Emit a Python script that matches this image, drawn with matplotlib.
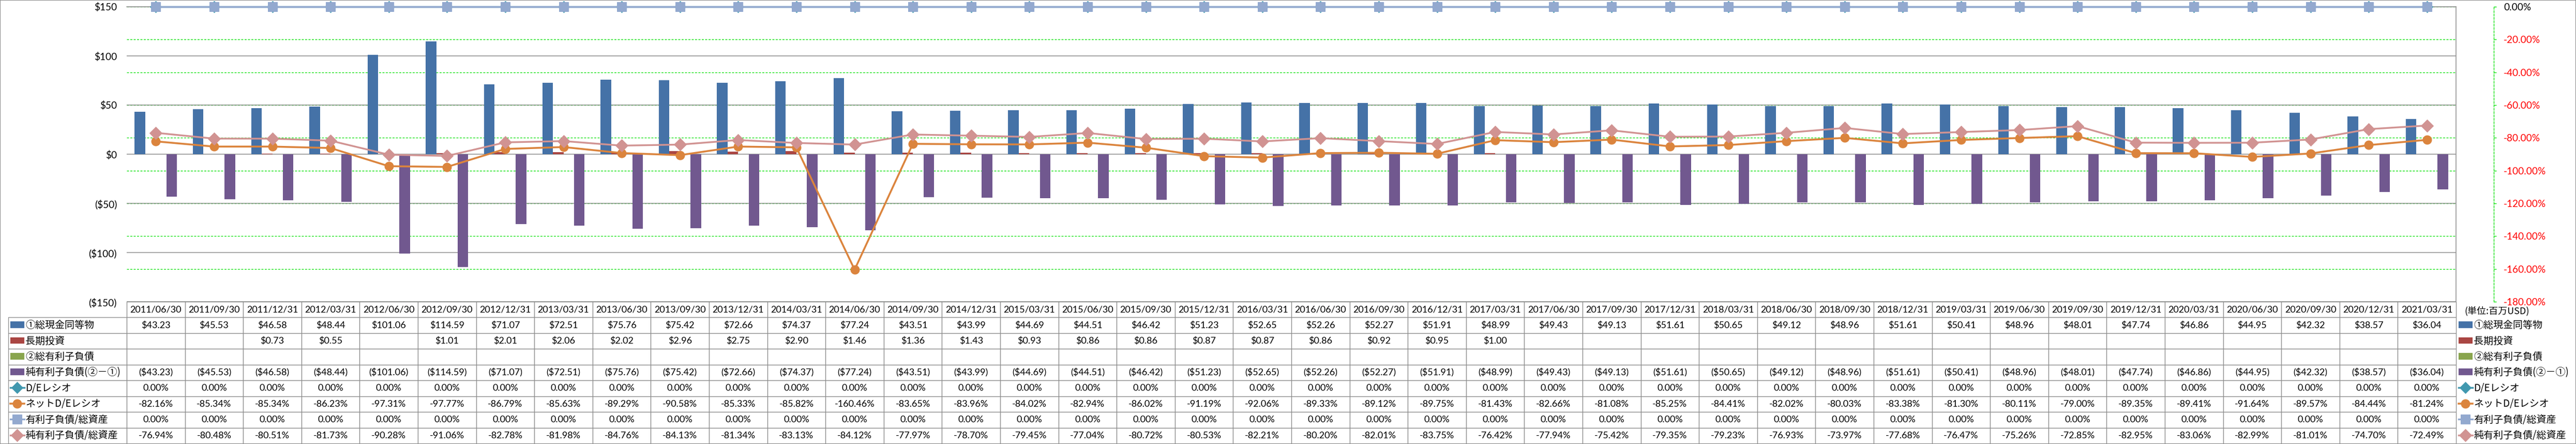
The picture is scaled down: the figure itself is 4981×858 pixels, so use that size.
import numpy as np
import matplotlib
matplotlib.use("Agg")
import matplotlib.pyplot as plt
from matplotlib.ticker import FixedLocator, FuncFormatter

plt.rcParams['font.family'] = ['Lato', 'Noto Sans CJK JP', 'DejaVu Sans']

dates = [
    "2011/06/30", "2011/09/30", "2011/12/31", "2012/03/31", "2012/06/30", "2012/09/30",
    "2012/12/31", "2013/03/31", "2013/06/30", "2013/09/30", "2013/12/31", "2014/03/31",
    "2014/06/30", "2014/09/30", "2014/12/31", "2015/03/31", "2015/06/30", "2015/09/30",
    "2015/12/31", "2016/03/31", "2016/06/30", "2016/09/30", "2016/12/31", "2017/03/31",
    "2017/06/30", "2017/09/30", "2017/12/31", "2018/03/31", "2018/06/30", "2018/09/30",
    "2018/12/31", "2019/03/31", "2019/06/30", "2019/09/30", "2019/12/31", "2020/03/31",
    "2020/06/30", "2020/09/30", "2020/12/31", "2021/03/31",
]

# 単位: 百万USD
cash = [43.23, 45.53, 46.58, 48.44, 101.06, 114.59, 71.07, 72.51, 75.76, 75.42,
        72.66, 74.37, 77.24, 43.51, 43.99, 44.69, 44.51, 46.42, 51.23, 52.65,
        52.26, 52.27, 51.91, 48.99, 49.43, 49.13, 51.61, 50.65, 49.12, 48.96,
        51.61, 50.41, 48.96, 48.01, 47.74, 46.86, 44.95, 42.32, 38.57, 36.04]
nan = np.nan
lt_invest = [nan, nan, 0.73, 0.55, nan, 1.01, 2.01, 2.06, 2.02, 2.96,
             2.75, 2.90, 1.46, 1.36, 1.43, 0.93, 0.86, 0.86, 0.87, 0.87,
             0.86, 0.92, 0.95, 1.00, nan, nan, nan, nan, nan, nan,
             nan, nan, nan, nan, nan, nan, nan, nan, nan, nan]
debt = [nan] * 40
net_debt = [-43.23, -45.53, -46.58, -48.44, -101.06, -114.59, -71.07, -72.51, -75.76, -75.42,
            -72.66, -74.37, -77.24, -43.51, -43.99, -44.69, -44.51, -46.42, -51.23, -52.65,
            -52.26, -52.27, -51.91, -48.99, -49.43, -49.13, -51.61, -50.65, -49.12, -48.96,
            -51.61, -50.41, -48.96, -48.01, -47.74, -46.86, -44.95, -42.32, -38.57, -36.04]

# %
de_ratio = [0.0] * 40
net_de_ratio = [-82.16, -85.34, -85.34, -86.23, -97.31, -97.77, -86.79, -85.63, -89.29, -90.58,
                -85.33, -85.82, -160.46, -83.65, -83.96, -84.02, -82.94, -86.02, -91.19, -92.06,
                -89.33, -89.12, -89.75, -81.43, -82.66, -81.08, -85.25, -84.41, -82.02, -80.03,
                -83.38, -81.30, -80.11, -79.00, -89.35, -89.41, -91.64, -89.57, -84.44, -81.24]
debt_assets = [0.0] * 40
net_debt_assets = [-76.94, -80.48, -80.51, -81.73, -90.28, -91.06, -82.78, -81.98, -84.76, -84.13,
                   -81.34, -83.13, -84.12, -77.97, -78.70, -79.45, -77.04, -80.72, -80.53, -82.21,
                   -80.20, -82.01, -83.75, -76.42, -77.94, -75.42, -79.35, -79.23, -76.93, -73.97,
                   -77.68, -76.47, -75.26, -72.85, -82.95, -83.06, -82.99, -81.01, -74.70, -72.49]

names = ["①総現金同等物", "長期投資", "②総有利子負債", "純有利子負債(②－①)",
         "D/Eレシオ", "ネットD/Eレシオ", "有利子負債/総資産", "純有利子負債/総資産"]

# ---- layout (pixels) ----
W, H, DPI = 4981, 858, 72
PL, PR, PT, PB = 245, 4749, 13, 583
TL, TB = 16, 857
GRAY = '#8c8c8c'
GREEN = '#00e000'
jp = {'family': 'Noto Sans CJK JP', 'size': 19}

fx = lambda p: p / W
fy = lambda p: 1 - p / H

fig = plt.figure(figsize=(W / DPI, H / DPI), dpi=DPI)
fig.patch.set_edgecolor(GRAY)
fig.patch.set_linewidth(2)

pos = [fx(PL), fy(PB), fx(PR) - fx(PL), fy(PT) - fy(PB)]
n = len(dates)
x = np.arange(n)

# green % grid behind the bars
axg = fig.add_axes(pos)
axg.set_xlim(-0.5, n - 0.5)
axg.set_ylim(-180, 0)
axg.yaxis.set_major_locator(FixedLocator(np.arange(-180, 1, 20)))
axg.grid(axis='y', color=GREEN, linestyle=(0, (3, 2)), linewidth=1.3)
axg.tick_params(length=0, labelleft=False, labelbottom=False)
axg.set_xticks([])
for s in axg.spines.values():
    s.set_visible(False)

# bars ($)
ax = fig.add_axes(pos, sharex=axg)
ax.patch.set_visible(False)
bw = 0.182
b1 = ax.bar(x - 1.5 * bw, cash, bw, color='#4572A7')
b2 = ax.bar(x - 0.5 * bw, lt_invest, bw, color='#AA4643')
b3 = ax.bar(x + 0.5 * bw, debt, bw, color='#89A54E')
b4 = ax.bar(x + 1.5 * bw, net_debt, bw, color='#71588F')
ax.set_ylim(-150, 150)
ax.set_xlim(-0.5, n - 0.5)
dvals = list(range(-150, 151, 50))
ax.yaxis.set_major_locator(FixedLocator(dvals))
ax.yaxis.set_major_formatter(FuncFormatter(
    lambda v, p: f"${v:.0f}" if v >= 0 else f"(${-v:.0f})"))
ax.set_axisbelow(True)
ax.grid(axis='y', color=GRAY, linewidth=1.5)
ax.tick_params(axis='y', length=0, pad=19, labelsize=19,
               left=False, right=True, labelleft=False, labelright=True)
ax.set_xticks([])
for side in ('left', 'bottom'):
    ax.spines[side].set_visible(False)
for side in ('top', 'right'):
    ax.spines[side].set_color(GRAY)
    ax.spines[side].set_linewidth(1.5)
for t, v in zip(ax.yaxis.get_major_ticks(), dvals):
    t.label2.set_color('black' if v >= 0 else 'red')

# lines (%)
ax2 = ax.twinx()
l1, = ax2.plot(x, de_ratio, color='#4198AF', lw=3.4, marker='D', ms=16, clip_on=False)
l2, = ax2.plot(x, net_de_ratio, color='#DB843D', lw=3.6, marker='o', ms=17, clip_on=False)
l3, = ax2.plot(x, debt_assets, color='#93A9CF', lw=3.4, marker='s', ms=18, clip_on=False)
l4, = ax2.plot(x, net_debt_assets, color='#D19392', lw=3.4, marker='D', ms=17.5, clip_on=False)
pvals = list(range(-180, 1, 20))
ax2.set_ylim(-180, 0)
ax2.yaxis.set_major_locator(FixedLocator(pvals))
ax2.yaxis.set_major_formatter(FuncFormatter(lambda v, p: f"{v:.2f}%"))
ax2.spines['right'].set_position(('outward', 73))
ax2.spines['right'].set_color(GREEN)
ax2.spines['right'].set_linestyle((0, (3, 2)))
ax2.spines['right'].set_linewidth(1.3)
for side in ('left', 'top', 'bottom'):
    ax2.spines[side].set_visible(False)
ax2.tick_params(axis='y', length=5, width=1.3, color=GREEN, pad=14, labelsize=19)
for t, v in zip(ax2.yaxis.get_major_ticks(), pvals):
    t.label2.set_color('black' if v >= 0 else 'red')

# data table
def money(v):
    if v is None or np.isnan(v):
        return ""
    return f"${v:.2f}" if v >= 0 else f"(${-v:.2f})"

def pct(v):
    return f"{v:.2f}%"

rows = [
    [money(v) for v in cash],
    [money(v) for v in lt_invest],
    [money(v) for v in debt],
    [money(v) for v in net_debt],
    [pct(v) for v in de_ratio],
    [pct(v) for v in net_de_ratio],
    [pct(v) for v in debt_assets],
    [pct(v) for v in net_debt_assets],
]
cell_text = [[""] + r for r in rows]
widths = [PL - TL] + [(PR - PL) / n] * n

tab_ax = fig.add_axes([0, 0, 1, 1])
tab_ax.axis('off')
tbl = tab_ax.table(cellText=cell_text, colLabels=[""] + dates, colWidths=widths,
                   cellLoc='center', colLoc='center',
                   bbox=[fx(TL), fy(TB), fx(PR) - fx(TL), fy(PB) - fy(TB)])
tbl.auto_set_font_size(False)
tbl.set_fontsize(18)
for (r, c), cell in tbl.get_celld().items():
    cell.set_edgecolor(GRAY)
    cell.set_linewidth(1.3)
tbl[0, 0].visible_edges = 'open'

# legend keys in the table and at the right
row_h = (TB - PB) / 9
handles = [b1, b2, b3, b4, l1, l2, l3, l4]
for i, (h, name) in enumerate(zip(handles, names)):
    yc = fy(PB + row_h * (i + 1.5))
    for xa in (20, 4754):
        fig.legend([h], [name], loc='center left', bbox_to_anchor=(fx(xa), yc),
                   frameon=False, borderpad=0, borderaxespad=0,
                   handlelength=1.4, handleheight=0.65, handletextpad=0.15,
                   prop=jp)

fig.text(fx(4765), fy(PB + row_h * 0.6), "(単位:百万USD)", va='center', ha='left',
         family='Noto Sans CJK JP', size=18)

fig.savefig("out.png", dpi=DPI)
